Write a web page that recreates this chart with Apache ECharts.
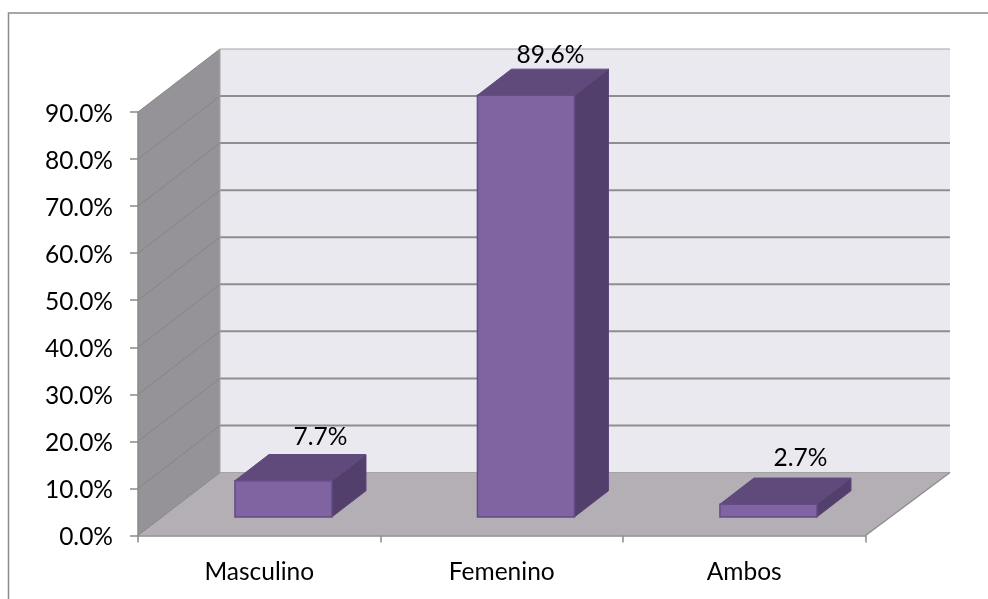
<!DOCTYPE html>
<html>
<head>
<meta charset="utf-8">
<style>html,body{margin:0;padding:0;background:#fff}#c{width:988px;height:599px}</style>
<script src="https://cdn.jsdelivr.net/npm/echarts@6/dist/echarts.min.js"></script>
</head>
<body>
<div id="c"></div>
<script>
const categories = ['Masculino', 'Femenino', 'Ambos'];
const values = [7.7, 89.6, 2.7];
const yTickValues = [0, 10, 20, 30, 40, 50, 60, 70, 80, 90];
const labelShiftX = [37, 24.5, 32];
const labelShiftY = [-43.5, -40, -46];

const FONT = 'Lato';
const FONT_SIZE = 24.5;
const DEPTH_X = 82, DEPTH_X_RIGHT = 84.5, DEPTH_Y = -63;
const BAR_FRONT = 0.295, BAR_DEPTH = 0.415, BAR_WIDTH = 0.4;
const GRID_COLOR = '#8e8e8e';

function renderWalls(params, api) {
  const band = api.size([1, 0])[0];
  const o = api.coord([0, 0]);
  const left = o[0] - band / 2;
  const right = left + band * categories.length;
  const base = o[1];
  const top = api.coord([0, yTickValues[yTickValues.length - 1]])[1];
  const poly = (pts, fill, stroke) => ({
    type: 'polygon', shape: { points: pts },
    style: { fill: fill, stroke: stroke || null, lineWidth: 1 }
  });
  const line = (x1, y1, x2, y2, color, w) => ({
    type: 'line', shape: { x1, y1, x2, y2 },
    style: { stroke: color, lineWidth: w }
  });
  const kids = [
    poly([[left + DEPTH_X, top + DEPTH_Y], [right + DEPTH_X_RIGHT, top + DEPTH_Y], [right + DEPTH_X_RIGHT, base + DEPTH_Y], [left + DEPTH_X, base + DEPTH_Y]], '#ebe9f0'),
    poly([[left, base], [left, top], [left + DEPTH_X, top + DEPTH_Y], [left + DEPTH_X, base + DEPTH_Y]], '#959397'),
    poly([[left, base], [right, base], [right + DEPTH_X_RIGHT, base + DEPTH_Y], [left + DEPTH_X, base + DEPTH_Y]], '#b4afb4')
  ];
  yTickValues.forEach(function (v) {
    const y = api.coord([0, v])[1];
    const isBase = v === 0;
    const isTop = v === yTickValues[yTickValues.length - 1];
    const c = isBase || isTop ? '#a3a3a3' : GRID_COLOR;
    kids.push(line(left + DEPTH_X, y + DEPTH_Y, right + DEPTH_X_RIGHT, y + DEPTH_Y, c, isBase || isTop ? 1.2 : 2));
    kids.push(line(left, y, left + DEPTH_X, y + DEPTH_Y, '#858585', 1));
  });
  kids.push(line(right, base, right + DEPTH_X_RIGHT, base + DEPTH_Y, '#8e8e8e', 1.5));
  kids.push(line(left + DEPTH_X, top + DEPTH_Y, left + DEPTH_X, base + DEPTH_Y, '#a3a3a3', 1));
  return { type: 'group', children: kids };
}

function renderBar(params, api) {
  const i = api.value(0), v = api.value(1);
  const band = api.size([1, 0])[0];
  const c0 = api.coord([i, 0]);
  const c1 = api.coord([i, v]);
  const cx = c0[0] + DEPTH_X * BAR_FRONT;
  const x0 = cx - band * BAR_WIDTH / 2, x1 = cx + band * BAR_WIDTH / 2;
  const yb = c0[1] + DEPTH_Y * BAR_FRONT;
  const yt = c1[1] + DEPTH_Y * BAR_FRONT;
  const dx = DEPTH_X * BAR_DEPTH, dy = DEPTH_Y * BAR_DEPTH;
  const edge = '#644c84';
  return {
    type: 'group',
    children: [
      { type: 'polygon', shape: { points: [[x1, yb], [x1, yt], [x1 + dx, yt + dy], [x1 + dx, yb + dy]] },
        style: { fill: '#533f6b', stroke: '#5c4679', lineWidth: 1 } },
      { type: 'polygon', shape: { points: [[x0, yt], [x1, yt], [x1 + dx, yt + dy], [x0 + dx, yt + dy]] },
        style: { fill: '#604a7b', stroke: '#5f4880', lineWidth: 1 } },
      { type: 'polygon', shape: { points: [[x0, yb], [x1, yb], [x1, yt], [x0, yt]] },
        style: { fill: '#8064a2', stroke: edge, lineWidth: 1.5 } },
      { type: 'text', style: {
          text: v.toFixed(1) + '%',
          x: cx + labelShiftX[i], y: yt + labelShiftY[i],
          align: 'center', verticalAlign: 'middle',
          fill: '#000', font: FONT_SIZE + 'px ' + FONT } }
    ]
  };
}

const chart = echarts.init(document.getElementById('c'), null, { renderer: 'canvas' });
chart.setOption({
  animation: false,
  backgroundColor: '#fff',
  textStyle: { fontFamily: FONT },
  graphic: [{
    type: 'polyline', z: 0, silent: true,
    shape: { points: [[8.5, 599], [8.5, 13], [988, 13]] },
    style: { stroke: '#8b8b8b', lineWidth: 1.5, fill: null }
  }],
  grid: { left: 138, right: 122.5, top: 112, bottom: 63.5 },
  xAxis: {
    type: 'category', data: categories, z: 5,
    axisLine: { lineStyle: { color: '#8a8a8a', width: 1.5 } },
    axisTick: { show: true, length: 7, alignWithLabel: false, lineStyle: { color: '#8a8a8a', width: 1.5 } },
    axisLabel: { color: '#000', fontSize: FONT_SIZE, fontFamily: FONT, margin: 24 },
    splitLine: { show: false }
  },
  yAxis: {
    type: 'value', min: 0, max: 90, interval: 10, z: 5,
    axisLine: { show: true, lineStyle: { color: '#8a8a8a', width: 1.5 } },
    axisTick: { show: true, length: 8, lineStyle: { color: '#8a8a8a', width: 1.5 } },
    axisLabel: { color: '#000', fontSize: FONT_SIZE, fontFamily: FONT, margin: 25,
      verticalAlign: 'top', lineHeight: 4,
      formatter: function (v) { return v.toFixed(1) + '%'; } },
    splitLine: { show: false }
  },
  series: [
    { type: 'custom', z: 1, silent: true, renderItem: renderWalls, data: [[0, 0]], encode: { x: 0, y: 1 } },
    { type: 'custom', z: 2, silent: true, renderItem: renderBar,
      data: values.map(function (v, i) { return [i, v]; }), encode: { x: 0, y: 1 } }
  ]
});
</script>
</body>
</html>
